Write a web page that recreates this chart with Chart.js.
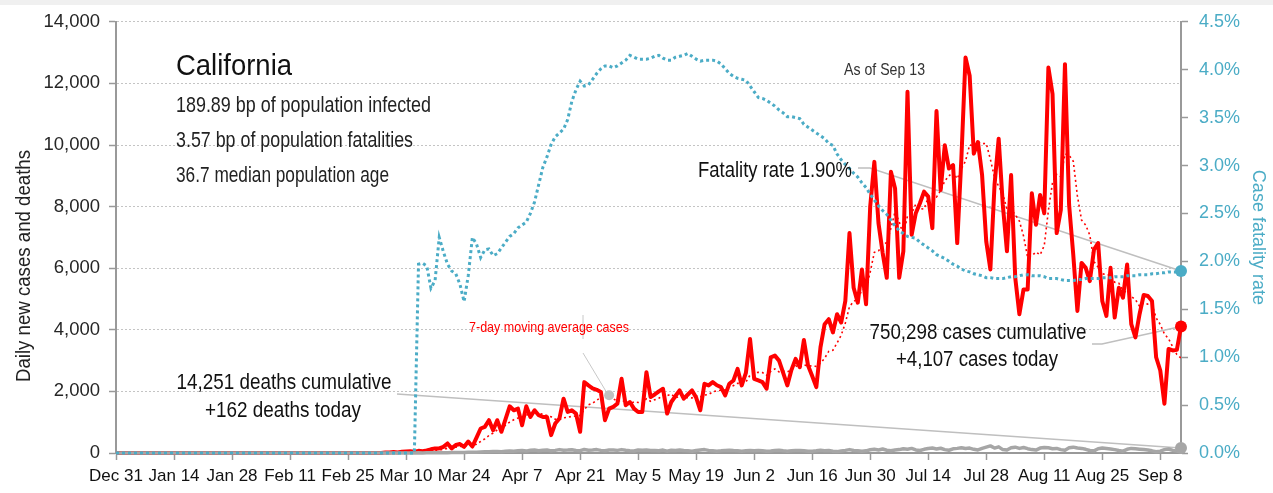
<!doctype html>
<html lang="en">
<head>
<meta charset="utf-8">
<title>California</title>
<style>
  html, body { margin: 0; padding: 0; background: #fff; }
  #wrap { width: 1273px; height: 493px; position: relative; }
</style>
</head>
<body>
<div id="wrap"><canvas id="chart"></canvas></div>
<script src="https://cdn.jsdelivr.net/npm/chart.js"></script>
<script>
const FONT = "'Liberation Sans', Arial, sans-serif";

// one value per day, Dec 31 2019 = day 0 ... Sep 13 2020 = day 257
const firstDay = Date.UTC(2019, 11, 31);
const monthNames = ['Jan','Feb','Mar','Apr','May','Jun','Jul','Aug','Sep','Oct','Nov','Dec'];

// daily new cases
const dailyCases = [
  0,0,0,0,0,0,0,0,0,0, 0,0,0,0,0,0,0,0,0,0, 0,0,0,0,0,0,0,0,0,0,
  0,0,0,0,0,0,0,0,0,0, 0,0,0,0,0,0,0,0,0,0, 0,0,0,0,0,0,0,0,0,0,
  0,0,0,0,0,
  20, 15, 30, 20, 40, 50, 60, 40, 70, 60,
  80, 120, 150, 150, 200, 310, 150, 260, 290, 200,
  370, 210, 500, 796, 850, 1065, 742, 1065, 688, 1100,
  1516, 1387, 1441, 903, 1516, 1172, 1387, 1226, 1172, 1172,
  580, 957, 1118, 1764, 1333, 1387, 1280, 690, 2301, 2194,
  2100, 2050, 1978, 1065, 1441, 1500, 1602, 2409, 1549, 1656,
  1441, 1333, 1333, 2624, 1817, 1900, 2000, 2086, 1280, 1656,
  1850, 2032, 1764, 1900, 2032, 1800, 1387, 2247, 2194, 2301,
  2200, 2140, 1871, 2247, 2355, 2731, 2194, 2600, 3699, 2409,
  2355, 2300, 2086, 3108, 3162, 3000, 2600, 2194, 2700, 3054,
  2785, 3667, 2839, 2500, 2140, 3430, 4183, 4345, 3914, 4506,
  4237, 4936, 7140, 5366, 4882, 5958, 4828, 8000, 9452, 7463,
  6500, 5688, 9130, 8592, 5688, 6549, 11730, 7086, 7785, 8108,
  8485, 8323, 7301, 11100, 8539, 9991, 9236, 9345, 6817, 9559,
  12840, 12250, 9720, 10097, 9023, 6871, 5958, 8700, 10204, 8055,
  6549, 9023, 5688, 4506, 5312, 5312, 8431, 7409, 8377, 7785,
  12517, 11657, 7140, 7893, 12625, 8054, 6441, 4613, 6172, 6011,
  5581, 6602, 6818, 4936, 4452, 6011, 4398, 5366, 5043, 6118,
  4183, 3753, 4506, 5129, 5097, 4936, 3108, 2678, 1602, 3377,
  3330, 3350, 4107
];

// 7-day moving average of cases (red dotted line), starts Mar 5
const movingAvgCases = [
  null,null,null,null,null,null,null,null,null,null, null,null,null,null,null,null,null,null,null,null,
  null,null,null,null,null,null,null,null,null,null, null,null,null,null,null,null,null,null,null,null,
  null,null,null,null,null,null,null,null,null,null, null,null,null,null,null,null,null,null,null,null,
  null,null,null,null,null,
  3, 5, 9, 12, 18, 25, 34, 36, 44, 49,
  57, 69, 83, 96, 119, 153, 166, 191, 216, 223,
  254, 256, 283, 375, 459, 570, 648, 747, 815, 901,
  1004, 1080, 1134, 1157, 1222, 1291, 1332, 1290, 1260, 1221,
  1175, 1095, 1087, 1141, 1157, 1187, 1203, 1218, 1410, 1564,
  1612, 1715, 1799, 1768, 1876, 1761, 1677, 1721, 1649, 1603,
  1657, 1641, 1618, 1764, 1679, 1729, 1778, 1870, 1863, 1909,
  1798, 1829, 1810, 1795, 1788, 1862, 1824, 1880, 1903, 1980,
  2023, 2038, 2049, 2171, 2187, 2264, 2248, 2305, 2528, 2605,
  2620, 2613, 2520, 2651, 2731, 2631, 2659, 2636, 2693, 2831,
  2785, 2857, 2834, 2820, 2812, 2916, 3078, 3301, 3336, 3574,
  3822, 4222, 4752, 4921, 4997, 5289, 5335, 5873, 6518, 6564,
  6726, 6841, 7294, 7832, 7502, 7087, 7697, 7780, 8080, 7934,
  7919, 8295, 8403, 8313, 8520, 8835, 8996, 9119, 8904, 9227,
  9475, 10005, 9967, 10090, 10044, 10051, 9537, 8946, 8653, 8415,
  7909, 7909, 7740, 7532, 7048, 6349, 6403, 6526, 6434, 6733,
  7878, 8784, 9045, 8968, 9713, 9667, 9475, 8346, 7563, 7401,
  7071, 6211, 6034, 5819, 5796, 5773, 5543, 5512, 5289, 5189,
  5082, 4982, 4767, 4871, 4833, 4817, 4387, 4172, 3865, 3704,
  3447, 3197, 3079
];

// daily new deaths (grey line)
const dailyDeaths = [
  0,0,0,0,0,0,0,0,0,0, 0,0,0,0,0,0,0,0,0,0, 0,0,0,0,0,0,0,0,0,0,
  0,0,0,0,0,0,0,0,0,0, 0,0,0,0,0,0,0,0,0,0, 0,0,0,0,0,0,0,0,0,0,
  0,0,0,0,
  1, 0, 1, 2, 1, 2, 3, 2, 4, 5,
  3, 6, 8, 7, 9, 12, 10, 14, 18, 17,
  20, 25, 28, 22, 35, 40, 38, 45, 50, 42,
  60, 68, 55, 70, 80, 62, 90, 95, 75, 88,
  100, 70, 85, 110, 90, 95, 105, 80, 75, 115,
  90, 95, 110, 85, 70, 95, 100, 85, 110, 90,
  75, 65, 95, 90, 100, 85, 80, 70, 95, 60,
  90, 85, 95, 80, 70, 55, 80, 95, 110, 85,
  75, 60, 70, 85, 90, 80, 75, 60, 70, 80,
  75, 85, 70, 55, 65, 80, 90, 70, 60, 75,
  85, 80, 70, 55, 60, 70, 90, 75, 80, 60,
  45, 65, 85, 110, 80, 75, 60, 70, 105, 120,
  100, 130, 90, 70, 95, 110, 140, 120, 150, 100,
  80, 120, 145, 160, 130, 155, 110, 90, 135, 150,
  170, 145, 160, 120, 100, 150, 190, 230, 160, 200,
  110, 95, 170, 190, 150, 180, 140, 110, 95, 160,
  180, 170, 140, 150, 110, 90, 170, 190, 160, 150,
  120, 80, 70, 140, 160, 145, 130, 110, 80, 60,
  120, 150, 140, 125, 110, 95, 70, 40, 60, 110,
  130, 85, 60, 162
];

// case fatality rate, percent (right axis)
const fatalityRate = [
  0,0,0,0,0,0,0,0,0,0, 0,0,0,0,0,0,0,0,0,0, 0,0,0,0,0,0,0,0,0,0,
  0,0,0,0,0,0,0,0,0,0, 0,0,0,0,0,0,0,0,0,0, 0,0,0,0,0,0,0,0,0,0,
  0,0,0,0,0,0,0,0,0,0, 0,0,0,
  1.97, 1.98, 1.95, 1.72, 1.80, 2.25, 2.10, 1.97, 1.90, 1.87,
  1.76, 1.58, 1.85, 2.25, 2.18, 2.04, 2.12, 2.13, 2.06, 2.08,
  2.14, 2.20, 2.26, 2.29, 2.35, 2.38, 2.41, 2.50, 2.62, 2.80,
  2.98, 3.09, 3.22, 3.30, 3.34, 3.38, 3.48, 3.67, 3.79, 3.88,
  3.83, 3.84, 3.90, 3.96, 4.01, 4.04, 4.04, 4.02, 4.04, 4.07,
  4.10, 4.15, 4.13, 4.11, 4.11, 4.11, 4.12, 4.14, 4.15, 4.12,
  4.10, 4.10, 4.13, 4.14, 4.15, 4.17, 4.14, 4.11, 4.09, 4.10,
  4.10, 4.10, 4.09, 4.06, 4.01, 3.96, 3.93, 3.91, 3.90, 3.89,
  3.83, 3.77, 3.71, 3.70, 3.68, 3.65, 3.62, 3.58, 3.55, 3.51,
  3.51, 3.50, 3.49, 3.43, 3.40, 3.37, 3.34, 3.31, 3.28, 3.23,
  3.21, 3.12, 3.06, 3.01, 2.97, 2.92, 2.88, 2.82, 2.77, 2.70,
  2.64, 2.58, 2.53, 2.49, 2.43, 2.37, 2.32, 2.29, 2.26, 2.25,
  2.24, 2.20, 2.17, 2.14, 2.11, 2.07, 2.05, 2.03, 2.00, 1.97,
  1.95, 1.92, 1.90, 1.89, 1.87, 1.86, 1.85, 1.83, 1.83, 1.82,
  1.82, 1.82, 1.83, 1.84, 1.84, 1.85, 1.86, 1.86, 1.85, 1.85,
  1.85, 1.84, 1.82, 1.82, 1.82, 1.81, 1.80, 1.80, 1.80, 1.81,
  1.81, 1.82, 1.82, 1.82, 1.82, 1.83, 1.83, 1.83, 1.84, 1.84,
  1.84, 1.85, 1.85, 1.85, 1.86, 1.86, 1.86, 1.87, 1.87, 1.88,
  1.88, 1.89, 1.89, 1.89, 1.90
];

const leftTicks = { min: 0, max: 14000, step: 2000 };
const rightTicks = { min: 0, max: 4.5, step: 0.5 };
const dateTickStep = 14;

const stateName = 'California';
const stateFacts = ['189.89 bp of population infected', '3.57 bp of population fatalities', '36.7 median population age'];
const asOf = 'As of Sep 13';
const cumulativeCases = 750298;
const cumulativeDeaths = 14251;
const avgMarkerDay = 119;

const lastDay = dailyCases.length - 1;
const fmt = n => n.toLocaleString('en-US');
const toPoints = arr => arr.map((v, i) => ({ x: i, y: v }));
const onlyLast = r => ctx => ctx.dataIndex === lastDay ? r : 0;

function dayLabel(v) {
  const d = new Date(firstDay + v * 86400000);
  return monthNames[d.getUTCMonth()] + ' ' + d.getUTCDate();
}

// draws text squeezed sideways to a given width, to get the narrow face of the original
function write(c, str, x, y, size, color, align, width) {
  c.save();
  c.font = size + 'px ' + FONT;
  const k = width / c.measureText(str).width;
  const x0 = align === 'right' ? x - width : align === 'center' ? x - width / 2 : x;
  c.translate(x0, y);
  c.scale(k, 1);
  c.textAlign = 'left';
  c.textBaseline = 'alphabetic';
  c.fillStyle = color;
  c.fillText(str, 0, 0);
  c.restore();
}

function line(c, pts, color, width) {
  c.beginPath();
  c.moveTo(pts[0][0], pts[0][1]);
  for (let i = 1; i < pts.length; i++) c.lineTo(pts[i][0], pts[i][1]);
  c.strokeStyle = color;
  c.lineWidth = width;
  c.stroke();
}

const notes = {
  id: 'notes',
  beforeDraw(chart) {
    const c = chart.ctx;
    c.save();
    c.fillStyle = '#f0f0f0';
    c.fillRect(0, 0, chart.width, 5);
    c.restore();
  },
  beforeDatasetsDraw(chart) {
    const c = chart.ctx, x = chart.scales.x, y = chart.scales.y, y2 = chart.scales.y2;
    const ex = x.getPixelForValue(lastDay);
    c.save();
    // leaders to today's values
    line(c, [[858, 168], [870, 168], [ex, y2.getPixelForValue(fatalityRate[lastDay])]], '#bfbfbf', 1.5);
    line(c, [[1092, 344], [1102, 344], [ex, y.getPixelForValue(dailyCases[lastDay])]], '#bfbfbf', 1.5);
    line(c, [[397, 394], [ex, y.getPixelForValue(dailyDeaths[lastDay])]], '#bfbfbf', 1.5);
    // leader to the moving average marker
    const mx = x.getPixelForValue(avgMarkerDay), my = y.getPixelForValue(movingAvgCases[avgMarkerDay]);
    line(c, [[583, 315], [583, 339]], '#c8c8c8', 1);
    line(c, [[583, 353], [mx - 2, my - 2]], '#c8c8c8', 1);
    c.restore();
  },
  afterDatasetsDraw(chart) {
    const c = chart.ctx;
    write(c, stateName, 176, 75, 30, '#111', 'left', 116);
    write(c, stateFacts[0], 176, 112, 22, '#222', 'left', 255);
    write(c, stateFacts[1], 176, 147, 22, '#222', 'left', 237);
    write(c, stateFacts[2], 176, 182, 22, '#222', 'left', 213);
    write(c, asOf, 844, 75, 17, '#333', 'left', 81);
    write(c, 'Fatality rate ' + fatalityRate[lastDay].toFixed(2) + '%', 852, 177, 22, '#111', 'right', 154);
    write(c, fmt(cumulativeCases) + ' cases cumulative', 978, 339, 22, '#111', 'center', 217);
    write(c, '+' + fmt(dailyCases[lastDay]) + ' cases today', 977, 366, 22, '#111', 'center', 162);
    write(c, fmt(cumulativeDeaths) + ' deaths cumulative', 284, 389, 22, '#111', 'center', 215);
    write(c, '+' + fmt(dailyDeaths[lastDay]) + ' deaths today', 283, 417, 22, '#111', 'center', 156);
    write(c, '7-day moving average cases', 469, 332, 15, '#ff0000', 'left', 160);
    // left axis title
    c.save();
    c.translate(30, 266);
    c.rotate(-Math.PI / 2);
    write(c, 'Daily new cases and deaths', 0, 0, 21, '#222', 'center', 232);
    c.restore();
  }
};

new Chart(document.getElementById('chart'), {
  type: 'line',
  data: {
    datasets: [
      {
        label: '7-day moving average cases',
        data: toPoints(movingAvgCases),
        yAxisID: 'y',
        borderColor: '#ff0000',
        borderWidth: 1.6,
        borderDash: [2, 3],
        pointRadius: ctx => ctx.dataIndex === avgMarkerDay ? 5 : 0,
        pointBackgroundColor: '#c0c0c0',
        pointBorderWidth: 0,
        spanGaps: false,
        order: 4
      },
      {
        label: 'Daily new cases',
        data: toPoints(dailyCases),
        yAxisID: 'y',
        borderColor: '#ff0000',
        borderWidth: 4,
        borderJoinStyle: 'round',
        pointRadius: onlyLast(6),
        pointBackgroundColor: '#ff0000',
        pointBorderWidth: 0,
        clip: false,
        order: 3
      },
      {
        label: 'Daily new deaths',
        data: toPoints(dailyDeaths),
        yAxisID: 'y',
        borderColor: '#a6a6a6',
        borderWidth: 3.5,
        borderJoinStyle: 'round',
        pointRadius: onlyLast(6),
        pointBackgroundColor: '#a6a6a6',
        pointBorderWidth: 0,
        clip: false,
        order: 2
      },
      {
        label: 'Case fatality rate',
        data: toPoints(fatalityRate),
        yAxisID: 'y2',
        borderColor: '#4bacc6',
        borderWidth: 3,
        borderDash: [3, 3],
        pointRadius: onlyLast(6),
        pointBackgroundColor: '#4bacc6',
        pointBorderWidth: 0,
        clip: false,
        order: 1
      }
    ]
  },
  options: {
    responsive: true,
    maintainAspectRatio: false,
    devicePixelRatio: 1,
    animation: false,
    layout: { padding: { top: 19, left: 0, right: 0, bottom: 0 } },
    elements: { line: { tension: 0 } },
    plugins: { legend: { display: false }, tooltip: { enabled: false } },
    scales: {
      x: {
        type: 'linear',
        min: 0,
        max: lastDay,
        afterFit: s => { s.height = 40; },
        grid: { drawOnChartArea: false, drawTicks: true, tickLength: 7, tickColor: '#999', tickWidth: 1.5 },
        border: { color: '#999', width: 2 },
        ticks: {
          stepSize: dateTickStep,
          includeBounds: false,
          autoSkip: false,
          maxRotation: 0,
          padding: 6,
          color: '#111',
          font: { family: FONT, size: 17 },
          callback: v => dayLabel(v)
        }
      },
      y: {
        position: 'left',
        min: leftTicks.min,
        max: leftTicks.max,
        afterFit: s => { s.width = 116; },
        grid: { color: '#c4c4c4', lineWidth: 1, drawTicks: true, tickLength: 7, tickColor: '#999', tickWidth: 1.5 },
        border: { color: '#999', width: 2, dash: [2, 2] },
        ticks: {
          stepSize: leftTicks.step,
          padding: 9,
          color: '#262626',
          font: { family: FONT, size: 18.5 },
          callback: v => fmt(v)
        }
      },
      y2: {
        position: 'right',
        min: rightTicks.min,
        max: rightTicks.max,
        afterFit: s => { s.width = 92; },
        grid: { drawOnChartArea: false, drawTicks: true, tickLength: 7, tickColor: '#999', tickWidth: 1.5 },
        border: { color: '#999', width: 2 },
        ticks: {
          stepSize: rightTicks.step,
          padding: 11,
          color: '#4bacc6',
          font: { family: FONT, size: 18 },
          callback: v => v.toFixed(1) + '%'
        },
        title: {
          display: true,
          text: 'Case fatality rate',
          color: '#4bacc6',
          font: { family: FONT, size: 18 },
          padding: { top: 4, bottom: 0 }
        }
      }
    }
  },
  plugins: [notes]
});
</script>
</body>
</html>
